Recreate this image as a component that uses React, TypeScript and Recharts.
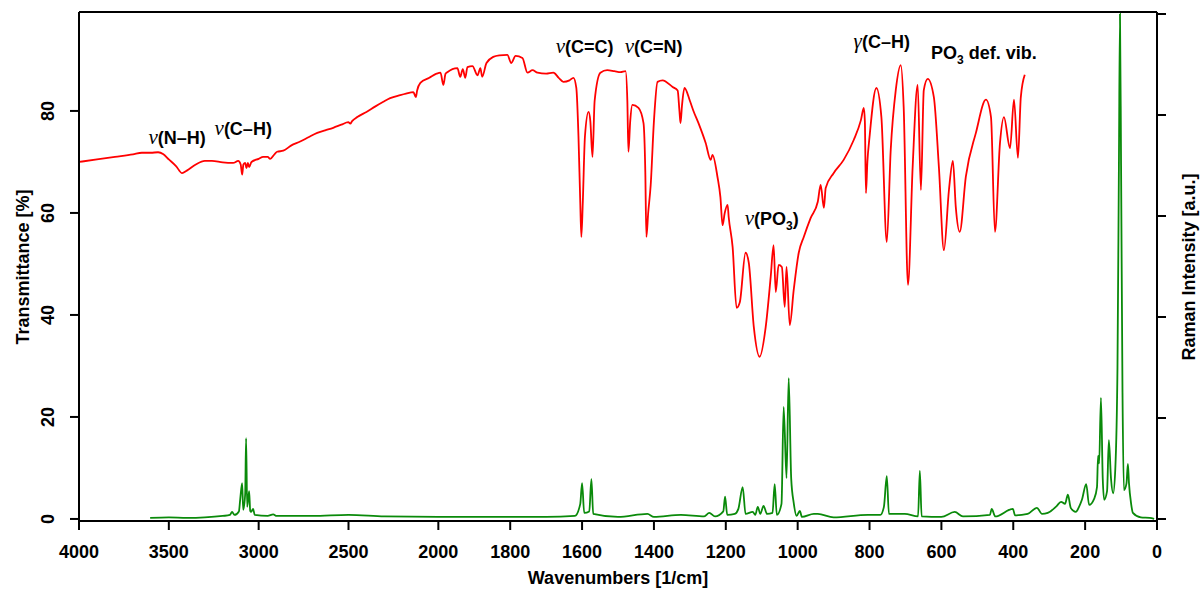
import { LineChart, Line, XAxis, YAxis, ReferenceLine, ReferenceDot } from "recharts";

// IR spectrum (transmittance, %)
const irWavenumbers = [
  4000, 3900, 3800, 3700, 3650, 3600, 3560, 3530, 3500, 3460, 3426, 3400, 3350, 3300, 3260, 3200,
  3142, 3114, 3100, 3092, 3085, 3075, 3068, 3060, 3053, 3040, 3000, 2975, 2950, 2936, 2910, 2897,
  2863, 2820, 2769, 2720, 2674, 2630, 2585, 2540, 2501, 2490, 2480, 2451, 2400, 2350, 2306, 2268,
  2212, 2180, 2139, 2125, 2118, 2100, 2050, 2010, 1994, 1986, 1980, 1975, 1947, 1939, 1932, 1925,
  1919, 1905, 1891, 1883, 1878, 1866, 1847, 1830, 1808, 1797, 1785, 1766, 1752, 1738, 1724, 1700,
  1680, 1665, 1652, 1635, 1624, 1616, 1610, 1605, 1602, 1598, 1592, 1582, 1577, 1571, 1565, 1549,
  1530, 1510, 1493, 1479, 1474, 1471, 1466, 1460, 1443, 1429, 1424, 1421, 1416, 1409, 1400, 1390,
  1376, 1348, 1334, 1329, 1326, 1322, 1315, 1300, 1290, 1276, 1256, 1242, 1237, 1223, 1215, 1209,
  1203, 1195, 1192, 1181, 1170, 1161, 1145, 1136, 1122, 1106, 1089, 1075, 1067, 1061, 1053, 1044,
  1036, 1031, 1022, 1011, 997, 983, 964, 944, 936, 927, 922, 900, 872, 844, 824, 816,
  813, 810, 806, 800, 781, 767, 752, 741, 727, 713, 705, 693, 680, 666, 657, 649,
  638, 621, 607, 593, 579, 568, 560, 549, 532, 504, 476, 462, 451, 437, 426, 409,
  398, 387, 379, 368,
];
const irTransmittance = [
  70.0, 70.5, 71.0, 71.5, 71.8, 71.8, 71.9, 71.5, 70.5, 69.2, 67.8, 68.3, 69.5, 70.2, 70.2, 69.9,
  69.8, 70.2, 69.5, 67.5, 69.5, 69.8, 68.8, 69.8, 69.0, 70.0, 70.6, 71.0, 71.0, 70.6, 71.6, 72.0,
  72.2, 73.2, 74.0, 74.9, 75.7, 76.2, 76.7, 77.3, 77.8, 77.5, 78.0, 78.8, 79.8, 80.9, 81.8, 82.5,
  83.1, 83.4, 83.7, 82.7, 84.0, 85.5, 86.5, 87.3, 87.5, 85.1, 87.3, 87.6, 88.4, 86.7, 88.2, 86.5,
  88.6, 88.8, 87.0, 88.4, 86.7, 89.4, 90.6, 90.9, 91.0, 89.4, 90.8, 90.4, 87.5, 88.0, 87.5, 87.3,
  87.5, 86.5, 85.7, 86.0, 86.5, 84.5, 75.0, 62.0, 55.3, 62.0, 75.0, 79.8, 78.0, 71.0, 82.0, 87.5,
  88.0, 87.8, 87.6, 87.8, 82.0, 72.0, 78.0, 81.2, 80.6, 77.6, 68.0, 55.3, 60.0, 65.5, 78.0, 85.7,
  86.0, 84.7, 84.0, 80.0, 77.6, 81.0, 84.5, 82.0, 80.0, 77.6, 73.7, 70.4, 71.4, 67.0, 63.1, 57.6,
  60.0, 61.6, 59.2, 53.3, 41.4, 42.5, 52.2, 50.2, 37.6, 31.8, 37.6, 47.5, 53.7, 44.5, 49.8, 49.4,
  41.6, 49.4, 38.0, 44.9, 52.2, 55.3, 59.0, 62.2, 65.5, 61.0, 64.9, 67.8, 70.4, 74.3, 78.2, 80.6,
  78.0, 63.9, 70.0, 74.9, 84.5, 78.8, 54.3, 72.4, 84.1, 89.0, 80.8, 45.9, 69.0, 85.1, 64.5, 84.1,
  86.3, 82.7, 69.0, 52.7, 64.5, 70.2, 61.2, 56.3, 67.1, 75.7, 82.2, 78.8, 56.3, 73.7, 78.8, 72.7,
  82.2, 70.8, 82.7, 87.1,
];

// Raman spectrum (a.u.)
const ramanWavenumbers = [
  3604, 3500, 3400, 3300, 3200, 3160, 3148, 3135, 3110, 3103, 3092, 3086, 3075, 3070, 3064, 3053,
  3047, 3042, 3031, 3022, 2950, 2919, 2900, 2700, 2500, 2300, 2000, 1700, 1620, 1605, 1600, 1594,
  1580, 1574, 1569, 1500, 1418, 1400, 1325, 1260, 1246, 1230, 1207, 1202, 1196, 1175, 1165, 1153,
  1145, 1125, 1118, 1111, 1104, 1095, 1085, 1070, 1064, 1058, 1045, 1039, 1031, 1025, 1018, 1011,
  1003, 994, 988, 955, 944, 900, 805, 770, 760, 752, 746, 702, 665, 660, 655, 600,
  563, 540, 465, 460, 450, 401, 395, 360, 334, 320, 304, 280, 267, 256, 248, 240,
  226, 217, 209, 197, 189, 175, 167, 164, 161, 156, 151, 147, 139, 134, 128, 122,
  116, 110, 106, 103, 100, 96, 92, 85, 81, 78, 72, 67, 45, 20, 8,
];
const ramanIntensity = [
  0.2, 0.3, 0.2, 0.3, 0.6, 0.8, 1.4, 0.8, 1.5, 3.8, 7.1, 1.8, 5.0, 16.0, 2.4, 5.5,
  1.6, 1.4, 2.0, 0.8, 0.6, 0.9, 0.6, 0.6, 0.8, 0.5, 0.4, 0.4, 0.6, 3.0, 7.1, 1.2,
  1.5, 7.9, 1.0, 0.4, 1.0, 0.4, 0.8, 0.5, 1.2, 0.5, 1.5, 4.4, 0.8, 1.0, 2.0, 6.3,
  1.0, 1.4, 0.8, 2.4, 1.0, 2.6, 1.0, 1.2, 6.9, 0.8, 3.0, 22.2, 8.1, 27.9, 8.0, 3.2,
  0.6, 1.6, 0.4, 1.0, 1.0, 0.3, 0.8, 0.8, 2.4, 8.5, 1.0, 1.0, 0.5, 9.5, 0.5, 0.4,
  1.4, 0.5, 0.8, 2.0, 0.5, 2.0, 0.7, 1.0, 2.2, 1.0, 1.2, 2.5, 3.4, 3.0, 4.8, 2.2,
  1.4, 2.4, 3.8, 6.9, 2.8, 4.0, 6.3, 12.5, 11.0, 24.0, 8.0, 3.8, 5.5, 15.6, 8.0, 5.1,
  10.0, 30.0, 70.0, 100.0, 70.0, 25.0, 5.7, 7.0, 10.9, 7.1, 3.0, 1.2, 0.3, 0.2, 0.0,
];

const xTickLabels = [4000, 3500, 3000, 2500, 2000, 1800, 1600, 1400, 1200, 1000, 800, 600, 400, 200, 0];
const leftTicks = [0, 20, 40, 60, 80];
const rightTicks = [0, 20, 40, 60, 80, 100];

// band labels, anchored at (wavenumber, transmittance) of their baseline centre
const annotations = [
  { wn: 3454, t: 73.5, greek: "ν", text: "(N–H)" },
  { wn: 3086, t: 75.3, greek: "ν", text: "(C–H)" },
  { wn: 1593, t: 91.4, greek: "ν", text: "(C=C)" },
  { wn: 1401, t: 91.4, greek: "ν", text: "(C=N)" },
  { wn: 1072, t: 57.6, greek: "ν", text: "(PO", sub: "3", after: ")" },
  { wn: 766, t: 92.4, greek: "γ", text: "(C–H)" },
  { wn: 482, t: 90.2, greek: "", text: "PO", sub: "3", after: " def. vib." },
];

// above 2000 1/cm the axis runs at half scale
const BREAK = 2000;
const toAxis = (wn: number) => (wn <= BREAK ? wn : BREAK + (wn - BREAK) / 2);
const fromAxis = (v: number) => (v <= BREAK ? v : BREAK + (v - BREAK) * 2);

const irData = irWavenumbers.map((wn, i) => ({ x: toAxis(wn), y: irTransmittance[i] }));
const ramanData = ramanWavenumbers.map((wn, i) => ({ x: toAxis(wn), y: ramanIntensity[i] }));
const xTicks = xTickLabels.map(toAxis);

const FONT = '"Liberation Sans", Arial, sans-serif';
const GREEK_FONT = '"Liberation Serif", "DejaVu Serif", serif';
const axisStyle = { stroke: "#000", strokeWidth: 2 };
const LEFT_MAX = 99.4;

function XTick({ x, y, payload }: any) {
  return (
    <text x={x} y={y + 26} textAnchor="middle" fontSize={18} fontWeight="bold" fontFamily={FONT} fill="#000">
      {Math.round(fromAxis(payload.value))}
    </text>
  );
}

function LeftTick({ x, y, payload }: any) {
  const bx = x - 14;
  return (
    <text
      x={bx}
      y={y}
      transform={`rotate(-90, ${bx}, ${y})`}
      textAnchor="middle"
      fontSize={18}
      fontWeight="bold"
      fontFamily={FONT}
      fill="#000"
    >
      {payload.value}
    </text>
  );
}

function Annotation({ viewBox, a }: any) {
  if (!viewBox) return null;
  const cx = viewBox.x + viewBox.width / 2;
  const cy = viewBox.y + viewBox.height / 2;
  return (
    <text x={cx} y={cy} textAnchor="middle" fontSize={18} fontWeight="bold" fontFamily={FONT} fill="#000">
      {a.greek && (
        <tspan fontFamily={GREEK_FONT} fontStyle="italic" fontWeight="normal" fontSize={21}>
          {a.greek}
        </tspan>
      )}
      <tspan>{a.text}</tspan>
      {a.sub && (
        <tspan fontSize={12} dy={5}>
          {a.sub}
        </tspan>
      )}
      {a.after && <tspan dy={a.sub ? -5 : 0}>{a.after}</tspan>}
    </text>
  );
}

export default function App() {
  return (
    <div style={{ position: "absolute", left: 0, top: 0, background: "#fff" }}>
      <LineChart width={1201} height={590} margin={{ top: 12, right: 0, bottom: 0, left: 0 }}>
        <XAxis
          xAxisId="x"
          type="number"
          dataKey="x"
          domain={[0, 3000]}
          reversed
          ticks={xTicks}
          interval={0}
          tick={<XTick />}
          tickSize={9}
          height={69}
          axisLine={axisStyle}
          tickLine={axisStyle}
        />
        <YAxis
          yAxisId="left"
          orientation="left"
          type="number"
          width={79}
          domain={[-0.4, LEFT_MAX]}
          ticks={leftTicks}
          interval={0}
          tick={<LeftTick />}
          tickSize={9}
          axisLine={axisStyle}
          tickLine={axisStyle}
        />
        <YAxis
          yAxisId="right"
          orientation="right"
          type="number"
          width={44}
          domain={[-0.4, 100.4]}
          ticks={rightTicks}
          interval={0}
          tick={() => <g />}
          tickSize={9}
          axisLine={axisStyle}
          tickLine={axisStyle}
        />
        <ReferenceLine xAxisId="x" yAxisId="left" y={LEFT_MAX} stroke="#000" strokeWidth={2} />
        <Line
          xAxisId="x"
          yAxisId="left"
          data={irData}
          dataKey="y"
          type="monotone"
          stroke="#ff0000"
          strokeWidth={1.8}
          dot={false}
          isAnimationActive={false}
        />
        <Line
          xAxisId="x"
          yAxisId="right"
          data={ramanData}
          dataKey="y"
          type="monotone"
          stroke="#0a8a0a"
          strokeWidth={1.8}
          dot={false}
          isAnimationActive={false}
        />
        {annotations.map((a) => (
          <ReferenceDot
            key={a.wn}
            xAxisId="x"
            yAxisId="left"
            x={toAxis(a.wn)}
            y={a.t}
            r={1}
            fill="none"
            stroke="none"
            label={(props: any) => <Annotation {...props} a={a} />}
          />
        ))}
      </LineChart>
      <svg width={1201} height={590} style={{ position: "absolute", left: 0, top: 0, pointerEvents: "none" }}>
        <text
          x={618}
          y={584}
          textAnchor="middle"
          fontSize={18}
          fontWeight="bold"
          fontFamily={FONT}
        >
          Wavenumbers [1/cm]
        </text>
        <text
          x={29}
          y={267}
          transform="rotate(-90, 29, 267)"
          textAnchor="middle"
          fontSize={18}
          fontWeight="bold"
          fontFamily={FONT}
        >
          Transmittance [%]
        </text>
        <text
          x={1195}
          y={267}
          transform="rotate(-90, 1195, 267)"
          textAnchor="middle"
          fontSize={18}
          fontWeight="bold"
          fontFamily={FONT}
        >
          Raman Intensity [a.u.]
        </text>
      </svg>
    </div>
  );
}
